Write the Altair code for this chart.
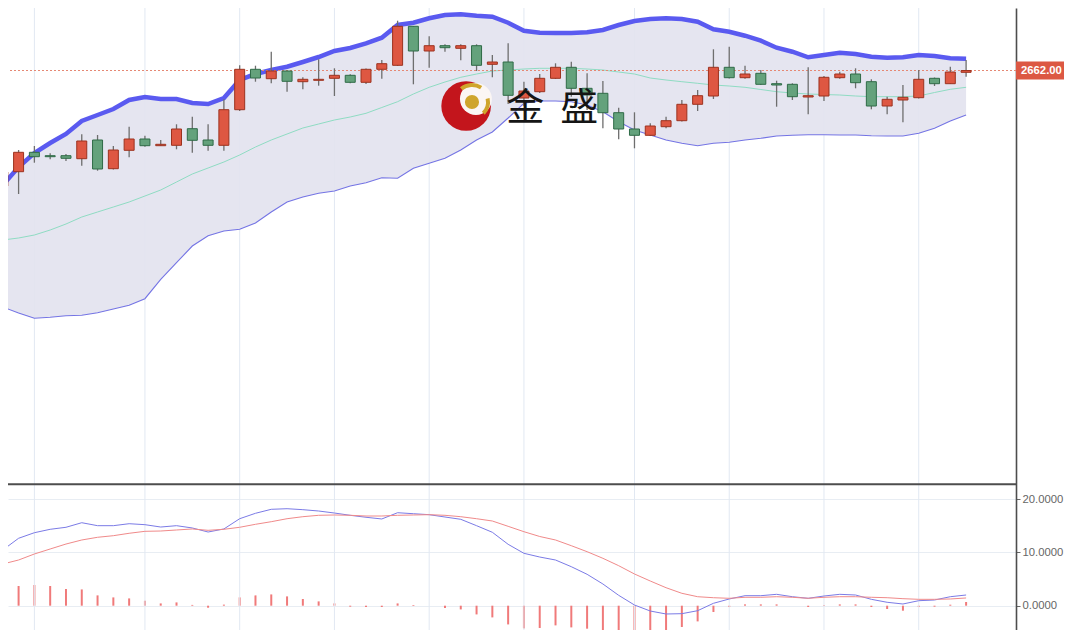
import altair as alt
import pandas as pd

# ---------------- data ----------------
idx = list(range(62))
opens = [2650.45, 2651.88, 2653.82, 2653.48, 2653.48, 2653.18, 2655.05, 2652.18, 2654.02, 2655.15,
         2654.48, 2654.52, 2656.18, 2655.05, 2654.52, 2658.08, 2662.12, 2661.18, 2661.95, 2660.88,
         2661.02, 2661.22, 2661.52, 2660.82, 2662.12, 2662.52, 2666.42, 2663.95, 2664.48, 2664.22,
         2664.48, 2662.62, 2662.85, 2659.25, 2659.88, 2661.22, 2662.32, 2660.22, 2659.72, 2657.78,
         2656.15, 2655.52, 2656.38, 2656.98, 2658.62, 2659.45, 2662.32, 2661.28, 2661.72, 2660.68,
         2660.62, 2659.35, 2659.45, 2661.28, 2661.65, 2660.88, 2658.45, 2659.05, 2659.28, 2661.22,
         2660.68, 2661.82]
highs = [2652.25, 2654.05, 2654.45, 2653.72, 2653.65, 2655.62, 2655.55, 2654.45, 2656.38, 2655.48,
         2655.05, 2656.62, 2657.38, 2656.62, 2659.12, 2662.52, 2662.48, 2663.88, 2662.00, 2661.32,
         2663.12, 2662.22, 2661.62, 2662.20, 2663.05, 2666.98, 2666.45, 2665.42, 2664.62, 2664.62,
         2664.62, 2663.55, 2664.72, 2660.88, 2661.65, 2662.72, 2662.88, 2661.72, 2660.95, 2658.28,
         2657.82, 2656.72, 2657.38, 2659.05, 2660.05, 2664.12, 2664.38, 2662.48, 2662.05, 2660.98,
         2660.72, 2662.32, 2661.45, 2661.88, 2662.22, 2661.12, 2659.38, 2660.55, 2662.05, 2661.30,
         2662.38, 2663.05]
lows = [2650.05, 2649.65, 2652.78, 2653.12, 2652.95, 2652.48, 2651.98, 2652.10, 2653.32, 2654.38,
        2654.45, 2654.12, 2653.78, 2653.98, 2653.98, 2657.95, 2660.88, 2660.72, 2659.88, 2660.12,
        2660.48, 2659.45, 2660.72, 2660.65, 2661.18, 2662.45, 2660.62, 2662.28, 2663.88, 2663.02,
        2661.95, 2661.32, 2658.65, 2658.45, 2659.75, 2661.15, 2659.38, 2658.05, 2656.22, 2655.12,
        2654.22, 2655.45, 2656.22, 2656.90, 2657.95, 2659.15, 2661.20, 2661.18, 2660.55, 2658.38,
        2659.05, 2657.62, 2658.95, 2661.18, 2660.22, 2658.12, 2657.62, 2656.82, 2659.20, 2660.45,
        2660.65, 2661.38]
closes = [2651.85, 2653.82, 2653.38, 2653.38, 2653.22, 2654.95, 2652.15, 2654.05, 2655.15, 2654.48,
          2654.62, 2656.15, 2655.02, 2654.52, 2658.08, 2662.12, 2661.25, 2661.95, 2660.92, 2661.12,
          2661.12, 2661.52, 2660.82, 2662.12, 2662.68, 2666.42, 2663.95, 2664.48, 2664.28, 2664.48,
          2662.52, 2662.85, 2659.52, 2659.95, 2661.22, 2662.32, 2660.22, 2659.55, 2657.78, 2656.15,
          2655.52, 2656.45, 2656.98, 2658.62, 2659.48, 2662.32, 2661.28, 2661.65, 2660.62, 2660.55,
          2659.38, 2659.48, 2661.32, 2661.65, 2660.78, 2658.45, 2659.12, 2659.32, 2661.12, 2660.68,
          2661.85, 2662.00]

boll_upper = [2650.55, 2652.35, 2653.75, 2654.75, 2655.65, 2656.95, 2657.55, 2658.15, 2659.05, 2659.35,
              2659.15, 2659.15, 2658.75, 2658.65, 2659.25, 2661.05, 2661.65, 2662.05, 2662.38, 2662.85,
              2663.35, 2663.95, 2664.25, 2664.72, 2665.28, 2666.55, 2666.78, 2667.22, 2667.55, 2667.62,
              2667.48, 2667.38, 2666.78, 2665.98, 2665.78, 2665.75, 2665.75, 2665.82, 2666.05, 2666.55,
              2666.95, 2667.15, 2667.22, 2667.15, 2666.88, 2666.12, 2665.88, 2665.48, 2664.98, 2664.28,
              2663.88, 2663.32, 2663.55, 2663.78, 2663.65, 2663.38, 2663.28, 2663.32, 2663.55, 2663.45,
              2663.22, 2663.18]
boll_mid = [2645.05, 2645.25, 2645.55, 2646.05, 2646.65, 2647.35, 2647.85, 2648.35, 2648.85, 2649.45,
            2650.05, 2650.85, 2651.65, 2652.25, 2652.85, 2653.55, 2654.35, 2655.05, 2655.65, 2656.25,
            2656.65, 2657.05, 2657.35, 2657.72, 2658.30, 2658.88, 2659.65, 2660.32, 2660.85, 2661.32,
            2661.65, 2661.95, 2662.05, 2662.15, 2662.22, 2662.22, 2662.22, 2662.15, 2662.05, 2661.85,
            2661.65, 2661.25, 2661.05, 2660.88, 2660.72, 2660.55, 2660.45, 2660.32, 2660.10, 2659.88,
            2659.75, 2659.65, 2659.60, 2659.55, 2659.45, 2659.38, 2659.38, 2659.38, 2659.45, 2659.80,
            2660.12, 2660.32]
boll_lower = [2638.35, 2637.75, 2637.22, 2637.32, 2637.48, 2637.52, 2637.78, 2638.15, 2638.52, 2639.18,
              2641.12, 2642.78, 2644.45, 2645.48, 2645.95, 2646.12, 2646.75, 2647.85, 2648.85, 2649.35,
              2649.72, 2649.95, 2650.45, 2650.78, 2651.28, 2651.22, 2652.22, 2652.72, 2653.22, 2654.05,
              2655.05, 2655.85, 2657.25, 2658.72, 2658.95, 2658.95, 2658.88, 2658.55, 2657.88, 2656.88,
              2656.05, 2655.55, 2655.05, 2654.72, 2654.48, 2654.72, 2654.82, 2655.05, 2655.22, 2655.45,
              2655.52, 2655.58, 2655.58, 2655.55, 2655.55, 2655.48, 2655.45, 2655.45, 2655.72, 2656.22,
              2656.95, 2657.55]

dif = [10.47, 12.67, 13.72, 14.36, 14.74, 15.60, 15.04, 15.04, 15.41, 15.23,
       14.79, 15.04, 14.61, 13.85, 14.42, 16.35, 17.37, 18.12, 18.23, 18.05,
       17.80, 17.42, 16.99, 16.62, 16.30, 17.48, 17.29, 17.11, 16.67, 16.24,
       15.04, 13.80, 11.54, 9.85, 9.15, 8.59, 7.33, 5.90, 4.08, 1.95,
       0.13, -1.00, -1.56, -1.50, -0.94, 0.45, 1.26, 1.88, 1.88, 2.14,
       1.69, 1.39, 1.82, 2.14, 2.01, 1.20, 0.64, 0.32, 0.94, 1.07,
       1.69, 2.01]
dea = [7.84, 8.59, 9.72, 10.66, 11.59, 12.35, 12.86, 13.16, 13.61, 13.98,
       14.04, 14.23, 14.42, 14.17, 14.36, 14.74, 15.30, 15.79, 16.35, 16.73,
       16.99, 17.05, 16.99, 16.86, 16.86, 16.99, 17.05, 17.11, 16.99, 16.73,
       16.35, 15.92, 14.92, 13.91, 13.01, 12.35, 11.28, 10.15, 8.91, 7.52,
       5.96, 4.64, 3.38, 2.33, 1.69, 1.50, 1.39, 1.58, 1.58, 1.69,
       1.58, 1.39, 1.58, 1.69, 1.69, 1.58, 1.50, 1.32, 1.20, 1.20,
       1.26, 1.45]
hist = [2.63, 3.70, 3.89, 3.70, 3.14, 3.06, 1.94, 1.56, 1.37, 0.94,
        0.43, 0.62, 0.15, -0.38, 0.20, 1.56, 1.94, 2.12, 1.75, 1.26,
        0.81, 0.43, -0.19, -0.25, -0.25, 0.43, 0.13, 0.0, -0.43, -0.70,
        -1.64, -2.20, -3.52, -4.27, -4.19, -3.70, -4.08, -4.32, -4.83, -5.58,
        -5.96, -5.58, -5.02, -4.00, -2.95, -1.18, -0.25, 0.25, 0.25, 0.25,
        0.0, -0.25, 0.13, 0.25, 0.25, -0.25, -0.62, -0.94, -0.25, -0.19,
        0.19, 0.70]

grid_idx = [2, 9, 15, 21, 27, 33, 40, 46, 52, 58]
last_price = 2662.00
last_price_label = "2662.00"
macd_ticks = [0, 10, 20]
macd_panel_top = 22.82

# watermark (logo + brand name), anchored in data units
logo_chars = ["金", "盛"]
logo_char_i = [33.09, 36.51]
logo_char_p = [2658.20, 2658.15]
logo_disc_i = [29.34, 29.96, 29.71]
logo_disc_p = [2658.45, 2659.15, 2658.85]

# ---------------- scales ----------------
W, H = 1008, 622
X_DOMAIN = [0.6458, 63.843]
P_DOMAIN = [2606.05, 2668.25]
M_DOMAIN = [-4.568, 112.35]

RED_FILL, RED_STROKE = "#de5742", "#9c321f"
GRN_FILL, GRN_STROKE = "#64a27c", "#2f6b47"

df = pd.DataFrame({
    "i": idx, "open": opens, "high": highs, "low": lows, "close": closes,
    "up": boll_upper, "mid": boll_mid, "lo": boll_lower,
    "dif": dif, "dea": dea, "hist": hist,
})
df["dir"] = ["up" if c >= o else "down" for o, c in zip(opens, closes)]
df["z"] = 0.0

xs = alt.X("i:Q", scale=alt.Scale(domain=X_DOMAIN, nice=False, zero=False), axis=None)


def py(field):
    return alt.Y(field, type="quantitative",
                 scale=alt.Scale(domain=P_DOMAIN, nice=False, zero=False), axis=None)


def my(field, axis=None):
    kw = {"axis": axis} if axis is not None else {"axis": None}
    return alt.Y(field, type="quantitative",
                 scale=alt.Scale(domain=M_DOMAIN, nice=False, zero=False), **kw)


base = alt.Chart(df)

grid_df = pd.DataFrame({"i": grid_idx})
vgrid = alt.Chart(grid_df).mark_rule(color="#e1e8f2", strokeWidth=1).encode(x=xs)

band = base.mark_area(color="#e3e3ef", opacity=0.92, clip=True).encode(
    x=xs, y=py("up"), y2=alt.Y2("lo"))
mid_line = base.mark_line(color="#8fdcc3", strokeWidth=1, clip=True).encode(x=xs, y=py("mid"))
low_line = base.mark_line(color="#7474e4", strokeWidth=1.1, clip=True).encode(x=xs, y=py("lo"))
up_line = base.mark_line(color="#5a5af0", strokeWidth=4.5, clip=True).encode(x=xs, y=py("up"))

price_df = pd.DataFrame({"p": [last_price], "top": [last_price + 0.9],
                         "bot": [last_price - 0.9], "t": [last_price_label]})
price_rule = alt.Chart(price_df).mark_rule(color="#e58874", strokeWidth=1,
                                           strokeDash=[2, 2]).encode(y=py("p"))

wicks = base.mark_rule(color="#6e6e6e", strokeWidth=1.3, clip=True).encode(
    x=xs, y=py("low"), y2=alt.Y2("high"))
bodies = base.mark_bar(size=10, strokeWidth=1, clip=True).encode(
    x=xs, y=py("open"), y2=alt.Y2("close"),
    fill=alt.Fill("dir:N", scale=alt.Scale(domain=["up", "down"], range=[RED_FILL, GRN_FILL]), legend=None),
    stroke=alt.Stroke("dir:N", scale=alt.Scale(domain=["up", "down"], range=[RED_STROKE, GRN_STROKE]), legend=None),
)

# ---- watermark ----
disc_df = pd.DataFrame({"i": logo_disc_i, "p": logo_disc_p,
                        "s": [2463, 1020, 200], "c": ["#c3151c", "#fbf6f4", "#cfa52c"]})
discs = alt.Chart(disc_df).mark_circle(opacity=1).encode(
    x=xs, y=py("p"), size=alt.Size("s:Q", scale=None, legend=None),
    color=alt.Color("c:N", scale=None, legend=None), order=alt.Order("s:Q", sort="descending"))
ball_df = pd.DataFrame({"i": [logo_disc_i[2]], "p": [logo_disc_p[2]]})
arc1 = alt.Chart(ball_df).mark_arc(radius=19, radius2=15, theta=5.6, theta2=6.85,
                                   color="#cfa52c").encode(x=xs, y=py("p"))
arc2 = alt.Chart(ball_df).mark_arc(radius=18, radius2=14, theta=1.35, theta2=2.35,
                                   color="#cfa52c").encode(x=xs, y=py("p"))
char_df = pd.DataFrame({"i": logo_char_i, "p": logo_char_p, "t": logo_chars})
chars = alt.Chart(char_df).mark_text(font="Noto Sans CJK SC", fontSize=38, color="#151515",
                                     align="center", baseline="middle").encode(
    x=xs, y=py("p"), text="t:N")

# ---- price tag ----
tag_rect = alt.Chart(price_df).mark_rect(color="#dc5843").encode(
    x=alt.value(W), x2=alt.value(W + 48), y=py("top"), y2=alt.Y2("bot"))
tag_text = alt.Chart(price_df).mark_text(font="Liberation Sans", fontSize=11.3, fontWeight="bold",
                                         color="white", align="left", baseline="middle").encode(
    x=alt.value(W + 5), y=py("p"), text="t:N")

# ---- MACD panel ----
macd_axis = alt.Axis(orient="right", values=macd_ticks, format=".4f", title=None,
                     grid=True, gridColor="#e8edf3", gridWidth=1,
                     tickSize=4, tickColor="#666666", tickWidth=1,
                     labelColor="#666666", labelFontSize=11.3, labelFont="Liberation Sans",
                     labelPadding=2, domainColor="#4d4d4d", domainWidth=1.6)
hist_bars = base.mark_bar(size=2, color="#f07a7a", clip=True).encode(
    x=xs, y=my("hist", macd_axis), y2=alt.Y2("z"))
dif_line = base.mark_line(color="#7b7be6", strokeWidth=1, clip=True).encode(x=xs, y=my("dif"))
dea_line = base.mark_line(color="#f08a8a", strokeWidth=1, clip=True).encode(x=xs, y=my("dea"))

div_df = pd.DataFrame({"v": [macd_panel_top]})
divider = alt.Chart(div_df).mark_rule(color="#4d4d4d", strokeWidth=2).encode(y=my("v"))

chart = alt.layer(
    hist_bars, vgrid, band, mid_line, low_line, up_line, price_rule, wicks, bodies,
    dif_line, dea_line, divider, discs, arc1, arc2, chars, tag_rect, tag_text,
).resolve_scale(y="independent").properties(
    width=W, height=H,
    autosize=alt.AutoSizeParams(type="none"),
    padding={"left": 0, "top": 0, "right": 48, "bottom": 0},
    background="white",
).configure_view(stroke=None)

chart.save("out.html", embed_options={"renderer": "svg", "actions": False})
